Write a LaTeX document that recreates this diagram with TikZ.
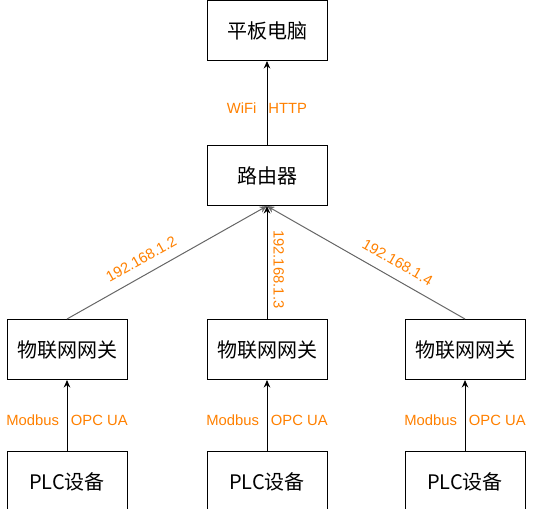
\documentclass[tikz,border=0pt]{standalone}
\usepackage{fontspec}
\setmainfont{Liberation Sans}
\newfontfamily\cjk{Noto Sans CJK SC}
\usetikzlibrary{positioning,arrows.meta}
\definecolor{lbl}{HTML}{FF8000}
\definecolor{wire}{HTML}{666666}

\begin{document}
\begin{tikzpicture}[
		box/.style={draw, line width=1pt, minimum width=120pt, minimum height=60pt, font=\cjk\fontsize{20}{24}\selectfont},
		lab/.style={text=lbl, font=\fontsize{14.8}{17}\selectfont, inner sep=1pt},
		link/.style={line width=1pt, -{Stealth[length=7.5pt,width=6.5pt]}},
	]
	\useasboundingbox (0,0) rectangle (537pt,-508pt);
	\node [box] (tab) at (267pt,-30.5pt) {平板电脑};
	\node [box, below=84pt of tab] (rt) {路由器};
	\node [box, below=113pt of rt] (gw2) {物联网网关};
	\node [box, left=79pt of gw2] (gw1) {物联网网关};
	\node [box, right=77pt of gw2] (gw3) {物联网网关};
	\node [box, below=71pt of gw1] (plc1) {PLC设备};
	\node [box, below=71pt of gw2] (plc2) {PLC设备};
	\node [box, below=71pt of gw3] (plc3) {PLC设备};
	%
	\draw [link] (rt) -- node[lab, pos=.44] {WiFi\hspace{12pt}HTTP} (tab);
	\draw [link, wire] (gw1.north) -- node[lab, pos=.41, sloped, above=9pt] {192.168.1.2} (rt.south);
	\draw [link] (gw2) -- node[lab, pos=.44, rotate=-90, anchor=south, inner sep=6pt] {192.168.1.3} (rt);
	\draw [link, wire] (gw3.north) -- node[lab, pos=.38, sloped, above=9pt] {192.168.1.4} (rt.south);
	\draw [link] (plc1) -- node[lab, pos=.44] {Modbus\hspace{12pt}OPC UA} (gw1);
	\draw [link] (plc2) -- node[lab, pos=.44] {Modbus\hspace{12pt}OPC UA} (gw2);
	\draw [link] (plc3) -- node[lab, pos=.44] {Modbus\hspace{12pt}OPC UA} (gw3);
\end{tikzpicture}
\end{document}
